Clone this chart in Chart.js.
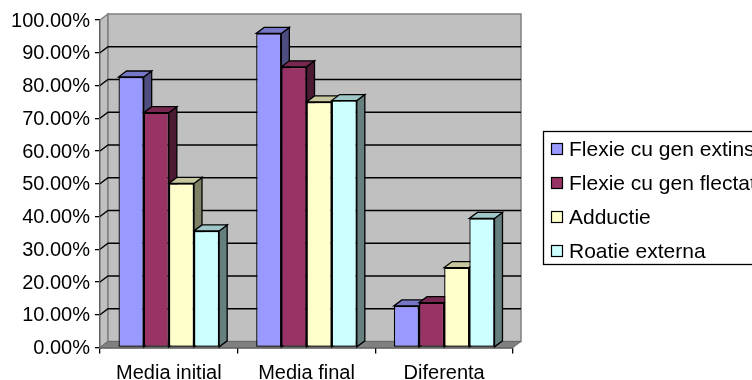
<!DOCTYPE html>
<html>
<head>
<meta charset="utf-8">
<script src="https://cdn.jsdelivr.net/npm/chart.js@4/dist/chart.umd.min.js"></script>
<style>
  html, body { margin: 0; padding: 0; background: #fff; }
  canvas { display: block; }
</style>
</head>
<body>
<canvas id="c" width="752" height="380"></canvas>
<script>
// Categories and series
const categories = ['Media initial', 'Media final', 'Diferenta'];
const seriesNames = ['Flexie cu gen extins', 'Flexie cu gen flectat', 'Adductie', 'Roatie externa'];
const flexieExtins  = [0.826, 0.959, 0.127];
const flexieFlectat = [0.717, 0.857, 0.137];
const adductie      = [0.501, 0.750, 0.244];
const roatieExterna = [0.356, 0.754, 0.394];
const seriesColors  = ['#9999FF', '#993366', '#FFFFCC', '#CCFFFF'];
const yTickValues   = [0, 0.1, 0.2, 0.3, 0.4, 0.5, 0.6, 0.7, 0.8, 0.9, 1.0];

const seriesValues = [flexieExtins, flexieFlectat, adductie, roatieExterna];

// depth offset of the 3D box
const DX = 8, DY = 6;

function shade(hex, f) {
  const n = parseInt(hex.slice(1), 16);
  const r = Math.round(((n >> 16) & 255) * f);
  const g = Math.round(((n >> 8) & 255) * f);
  const b = Math.round((n & 255) * f);
  return `rgb(${r},${g},${b})`;
}

function poly(ctx, pts, fill, stroke, lw) {
  ctx.beginPath();
  ctx.moveTo(pts[0][0], pts[0][1]);
  for (let i = 1; i < pts.length; i++) ctx.lineTo(pts[i][0], pts[i][1]);
  ctx.closePath();
  if (fill) { ctx.fillStyle = fill; ctx.fill(); }
  if (stroke) { ctx.strokeStyle = stroke; ctx.lineWidth = lw || 1; ctx.stroke(); }
}

// walls, floor, back gridlines and the top/side faces of each column
const box3d = {
  id: 'box3d',
  beforeDatasetsDraw(chart) {
    const { ctx, chartArea: a, scales: { y } } = chart;
    const L = a.left, R = a.right, T = a.top, B = a.bottom;
    ctx.save();
    // side wall
    poly(ctx, [[L, T], [L + DX, T - DY], [L + DX, B - DY], [L, B]], '#C0C0C0', '#808080', 1.5);
    // back wall
    poly(ctx, [[L + DX, T - DY], [R + DX, T - DY], [R + DX, B - DY], [L + DX, B - DY]], '#C0C0C0', '#808080', 1.5);
    // floor
    poly(ctx, [[L, B], [R, B], [R + DX, B - DY], [L + DX, B - DY]], '#808080', '#6a6a6a', 1);
    // gridlines on the walls
    ctx.strokeStyle = '#000';
    ctx.lineWidth = 1.4;
    yTickValues.forEach(v => {
      if (v <= 0 || v >= 1) return;
      const py = y.getPixelForValue(v);
      ctx.beginPath();
      ctx.moveTo(L, py);
      ctx.lineTo(L + DX, py - DY);
      ctx.lineTo(R + DX, py - DY);
      ctx.stroke();
    });
    // column top and side faces, left to right
    const metas = chart.data.datasets.map((_, d) => chart.getDatasetMeta(d));
    for (let i = 0; i < categories.length; i++) {
      metas.forEach((meta, d) => {
        const el = meta.data[i];
        const p = el.getProps(['x', 'y', 'base', 'width'], true);
        const l = p.x - p.width / 2, r = p.x + p.width / 2;
        const top = p.y, base = p.base;
        const col = seriesColors[d];
        poly(ctx, [[r, top], [r + DX, top - DY], [r + DX, base - DY], [r, base]], shade(col, 0.5), '#000', 1.3);
        poly(ctx, [[l, top], [r, top], [r + DX, top - DY], [l + DX, top - DY]], shade(col, 0.78), '#000', 1.3);
      });
    }
    ctx.restore();
  },
  afterDraw(chart) {
    const { ctx } = chart;
    ctx.save();
    // legend
    const bx = 543.5, by = 131.5, bh = 133;
    ctx.fillStyle = '#fff';
    ctx.fillRect(bx, by, 752 - bx, bh);
    ctx.strokeStyle = '#000';
    ctx.lineWidth = 1.3;
    ctx.strokeRect(bx, by, 400, bh);
    ctx.font = "21px 'Liberation Sans', Arial, sans-serif";
    ctx.textBaseline = 'middle';
    ctx.textAlign = 'left';
    seriesNames.forEach((name, k) => {
      const cy = 149 + k * 34;
      ctx.fillStyle = seriesColors[k];
      ctx.fillRect(551.5, cy - 5.5, 11, 11);
      ctx.strokeStyle = '#000';
      ctx.lineWidth = 1.2;
      ctx.strokeRect(551.5, cy - 5.5, 11, 11);
      ctx.fillStyle = '#000';
      ctx.fillText(name, 569, cy + 1);
    });
    ctx.restore();
  }
};

Chart.defaults.font.family = "'Liberation Sans', Arial, sans-serif";
Chart.defaults.font.size = 20;
Chart.defaults.color = '#000';

new Chart(document.getElementById('c'), {
  type: 'bar',
  data: {
    labels: categories,
    datasets: seriesNames.map((name, k) => ({
      label: name,
      data: seriesValues[k],
      backgroundColor: seriesColors[k],
      borderColor: '#000',
      borderWidth: 1.3,
      borderSkipped: false,
      categoryPercentage: 0.731,
      barPercentage: 1.0
    }))
  },
  options: {
    responsive: false,
    animation: false,
    layout: { padding: { left: 0, top: 20, right: 239, bottom: 0 } },
    plugins: {
      legend: { display: false },
      tooltip: { enabled: false }
    },
    scales: {
      x: {
        afterFit(s) { s.height = 32.5; },
        grid: {
          offset: true,
          drawOnChartArea: false,
          drawTicks: true,
          tickLength: 6,
          color: '#000',
          lineWidth: 1.3
        },
        border: { display: true, color: '#000', width: 1.5 },
        ticks: { padding: 8, maxRotation: 0, color: '#000' }
      },
      y: {
        min: 0,
        max: 1,
        afterFit(s) { s.width = 100; },
        afterBuildTicks(s) { s.ticks = yTickValues.map(v => ({ value: v })); },
        grid: {
          drawOnChartArea: false,
          drawTicks: true,
          tickLength: 5,
          color: '#000',
          lineWidth: 1.3
        },
        border: { display: true, color: '#000', width: 1.5 },
        ticks: {
          padding: 5,
          labelOffset: 1,
          color: '#000',
          callback: v => (v * 100).toFixed(2) + '%'
        }
      }
    }
  },
  plugins: [box3d]
});
</script>
</body>
</html>
